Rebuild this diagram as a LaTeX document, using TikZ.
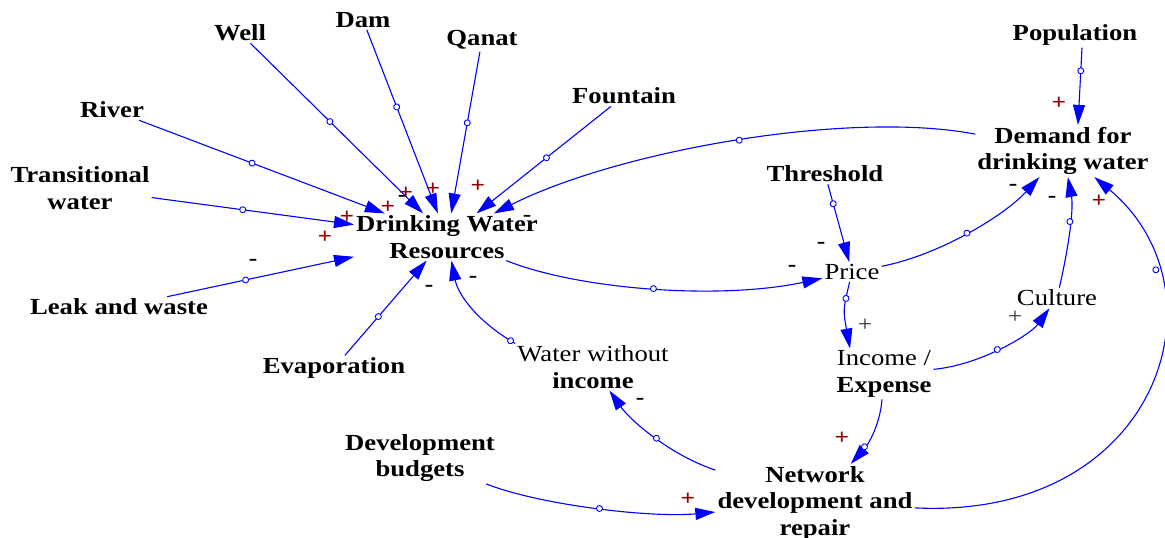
\documentclass[tikz,border=0pt]{standalone}
\usepackage{fontspec}
\setmainfont{Liberation Serif}[FakeStretch=1.16]
\usetikzlibrary{arrows.meta,decorations.markings}
\definecolor{lnk}{RGB}{0,0,255}
\definecolor{plusc}{RGB}{150,0,0}
\begin{document}
\begin{tikzpicture}[x=1pt,y=-1pt,
  var/.style={font=\fontsize{23}{26.5}\selectfont\bfseries, align=center, inner sep=2pt},
  varr/.style={font=\fontsize{23}{26.5}\selectfont, align=center, inner sep=2pt},
  cld/.style={draw=lnk, line width=1.1pt, -{Triangle[length=20pt,width=12pt]},
    postaction={decorate},
    decoration={markings, mark=at position #1 with {\filldraw[draw=lnk,fill=white,line width=0.9pt] (0,0) circle (3pt);}}},
  cld/.default=0.5,
  pl/.style={font=\fontsize{22}{22}\selectfont\bfseries, text=plusc, inner sep=0},
  plt/.style={font=\fontsize{22}{22}\selectfont, text=black!80, inner sep=0},
  mi/.style={font=\fontsize{22}{22}\selectfont\bfseries, inner sep=0},
]
\useasboundingbox (0,0) rectangle (1165,538);
\fill[white] (0,0) rectangle (1165,538);

% variables
\node[var] (well) at (240,33) {Well};
\node[var] (dam) at (363,20) {Dam};
\node[var] (qanat) at (482,40) {Qanat};
\node[var] (fountain) at (624,96) {Fountain};
\node[var] (river) at (112,110) {River};
\node[var] (trans) at (80,188) {Transitional\\water};
\node[var] (leak) at (119,307) {Leak and waste};
\node[var] (evap) at (334,368) {Evaporation};
\node[var] (dwr) at (447,237) {Drinking Water\\Resources};
\node[var] (pop) at (1075,35) {Population};
\node[var] (dem) at (1063,151) {Demand for\\drinking water};
\node[var] (thr) at (825,174) {Threshold};
\node[varr] (price) at (852,272) {Price};
\node[varr] (cul) at (1057,298) {Culture};
\node[varr] (inc) at (884,374) {Income /\\\textbf{Expense}};
\node[varr] (wwi) at (593,367) {Water without\\\textbf{income}};
\node[var] (dev) at (420,458) {Development\\budgets};
\node[var] (net) at (815,503) {Network\\development and\\repair};

% links
\draw[cld=0.46] (well) -- (dwr);
\draw[cld=0.42] (dam) -- (dwr);
\draw[cld=0.44] (qanat) -- (dwr);
\draw[cld=0.48] (fountain) -- (dwr);
\draw[cld=0.46] (river) -- (dwr);
\draw[cld=0.45] (trans) -- (dwr);
\draw[cld=0.42] (leak) -- (dwr);
\draw[cld=0.41] (evap) -- (dwr);
\draw[cld=0.48] (dem) .. controls (850,110) and (620,150) .. (dwr);
\draw[cld=0.05] (wwi.north west) .. controls (478,322) and (458,295) .. (dwr);
\draw[cld=0.47] (dwr) .. controls (580,290) and (720,300) .. (price);
\draw[cld=0.25] (thr) -- (price);
\draw[cld=0.5] (price) .. controls (940,255) and (1005,215) .. (dem);
\draw[cld=0.25] (price) .. controls (843,310) .. ([xshift=-34pt]inc.north);
\draw[cld=0.5] (inc) .. controls (980,365) and (1030,335) .. (cul);
\draw[cld=0.6] (cul) .. controls (1068,250) and (1074,210) .. (dem);
\draw[cld=0.3] ([xshift=7pt]pop.south) -- ([xshift=15pt]dem.north);
\draw[cld=0.78] (net) .. controls (1160,520) and (1230,290) .. (dem);
\draw[cld=0.7] (inc) .. controls (880,425) and (868,445) .. (net);
\draw[cld=0.5] (net) .. controls (670,455) and (630,420) .. (wwi);
\draw[cld=0.5] (dev) .. controls (540,505) and (650,518) .. (net);

% polarity signs
\node[pl] (s1) at (388,207) {+};
\node[mi] (s2) at (402,198) {-};
\node[pl] (s3) at (406,193) {+};
\node[pl] (s4) at (433,189) {+};
\node[pl] (s5) at (478,186) {+};
\node[pl] (s6) at (347,217) {+};
\node[pl] (s7) at (325,237) {+};
\node[mi] (s8) at (527,218) {-};
\node[mi] (s9) at (253,262) {-};
\node[mi] (s10) at (429,288) {-};
\node[mi] (s11) at (473,279) {-};
\node[pl] (s12) at (1059,103) {+};
\node[mi] (s13) at (1013,187) {-};
\node[mi] (s14) at (1052,199) {-};
\node[pl] (s15) at (1099,201) {+};
\node[mi] (s16) at (821,245) {-};
\node[mi] (s17) at (792,268) {-};
\node[plt] (s18) at (865,325) {+};
\node[plt] (s19) at (1015,317) {+};
\node[pl] (s20) at (842,438) {+};
\node[mi] (s21) at (640,401) {-};
\node[pl] (s22) at (688,499) {+};
\end{tikzpicture}
\end{document}
